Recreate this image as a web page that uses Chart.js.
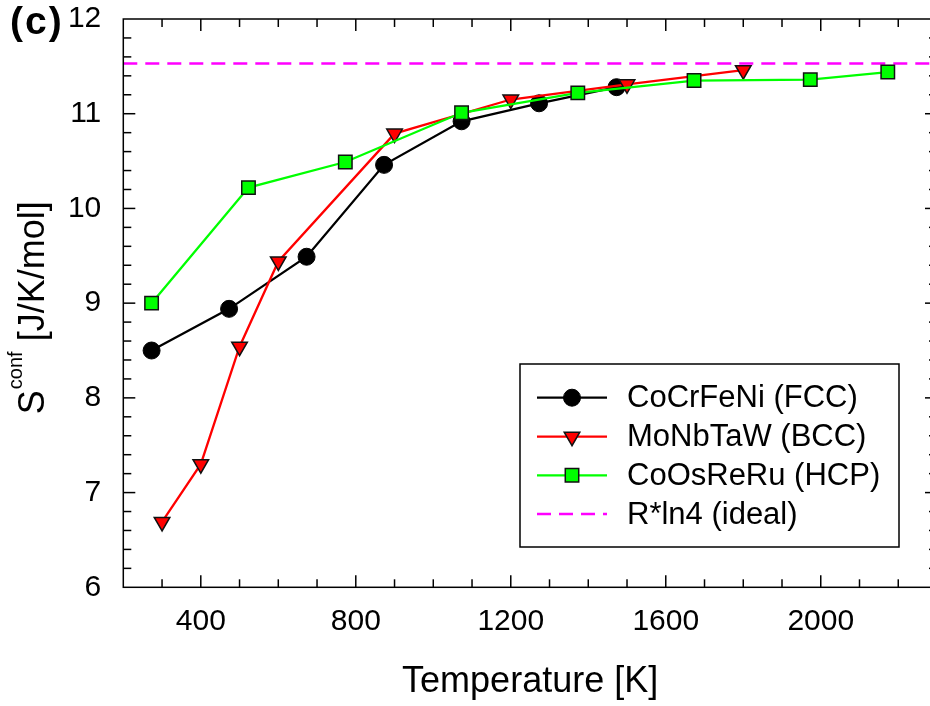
<!DOCTYPE html>
<html>
<head>
<meta charset="utf-8">
<style>
  html, body { margin: 0; padding: 0; overflow: hidden; background: #fff; }
  canvas { display: block; }
</style>
<script src="https://cdn.jsdelivr.net/npm/chart.js@4.4.1/dist/chart.umd.min.js"></script>
</head>
<body>
<canvas id="chart" width="950" height="706" style="width:950px;height:706px"></canvas>
<script>
// Configurational entropy vs temperature for three HEAs
const tempFCC = [273, 473, 673, 873, 1073, 1273, 1473];
const sFCC    = [8.50, 8.94, 9.49, 10.46, 10.92, 11.11, 11.28];

const tempBCC = [300, 400, 500, 600, 900, 1200, 1500, 1800];
const sBCC    = [6.69, 7.30, 8.54, 9.44, 10.79, 11.15, 11.31, 11.46];

const tempHCP = [273, 523, 773, 1073, 1373, 1673, 1973, 2173];
const sHCP    = [9.00, 10.22, 10.49, 11.01, 11.22, 11.35, 11.36, 11.44];

const tempIdeal = [200, 2300];
const sIdeal    = [11.53, 11.53];

const seriesNames = ['CoCrFeNi (FCC)', 'MoNbTaW (BCC)', 'CoOsReRu (HCP)', 'R*ln4 (ideal)'];

const xTicks = [400, 800, 1200, 1600, 2000];
const yTicks = [6, 7, 8, 9, 10, 11, 12];

const xTitle = 'Temperature [K]';
const panelLabel = '(c)';

const FONT = '"Liberation Sans", Arial, Helvetica, sans-serif';

const pts = (xs, ys) => xs.map((v, i) => ({ x: v, y: ys[i] }));

// Frame, inward ticks, axis titles, panel label and boxed legend
const decorations = {
  id: 'decorations',
  afterDraw(chart) {
    const { ctx, chartArea: a, scales: { x, y } } = chart;
    ctx.save();
    ctx.strokeStyle = '#000';
    ctx.lineWidth = 1.5;
    ctx.strokeRect(a.left, a.top, a.right - a.left, a.bottom - a.top);

    const seg = (x1, y1, x2, y2) => { ctx.beginPath(); ctx.moveTo(x1, y1); ctx.lineTo(x2, y2); ctx.stroke(); };
    for (let v = 300; v < 2300; v += 100) {
      const px = x.getPixelForValue(v);
      const len = v % 400 === 0 ? 12 : 8;
      seg(px, a.bottom, px, a.bottom - len);
      seg(px, a.top, px, a.top + len);
    }
    for (let i = 1; i < 30; i++) {
      const py = y.getPixelForValue(6 + i * 0.2);
      const len = i % 5 === 0 ? 12 : 8;
      seg(a.left, py, a.left + len, py);
      seg(a.right, py, a.right - len, py);
    }

    ctx.fillStyle = '#000';
    // x title
    ctx.font = '36px ' + FONT;
    ctx.textAlign = 'center';
    ctx.textBaseline = 'alphabetic';
    ctx.fillText(xTitle, (a.left + a.right) / 2, 692);

    // y title: S^conf [J/K/mol]
    ctx.save();
    const cy = (a.top + a.bottom) / 2;
    ctx.translate(44, cy + 111);
    ctx.rotate(-Math.PI / 2);
    ctx.textAlign = 'left';
    ctx.font = '36px ' + FONT;
    ctx.fillText('S', 0, 0);
    let off = ctx.measureText('S').width + 1;
    ctx.font = '20px ' + FONT;
    ctx.fillText('conf', off, -22);
    off += ctx.measureText('conf').width;
    ctx.font = '36px ' + FONT;
    ctx.fillText(' [J/K/mol]', off, 0);
    ctx.restore();

    // panel label
    ctx.font = 'bold 39px ' + FONT;
    ctx.textAlign = 'left';
    if ('letterSpacing' in ctx) ctx.letterSpacing = '2px';
    ctx.fillText(panelLabel, 10, 34);
    if ('letterSpacing' in ctx) ctx.letterSpacing = '0px';

    // legend
    const bx = 520, by = 364, bw = 379, bh = 183;
    ctx.fillStyle = '#fff';
    ctx.fillRect(bx, by, bw, bh);
    ctx.lineWidth = 1.5;
    ctx.strokeStyle = '#000';
    ctx.strokeRect(bx, by, bw, bh);
    const rows = [397.7, 436.7, 475.3, 514];
    const legendOrder = [2, 1, 0, 3]; // datasets listed top-to-bottom
    legendOrder.forEach((di, r) => {
      const ds = chart.data.datasets[di];
      const yy = rows[r];
      ctx.save();
      ctx.strokeStyle = ds.borderColor;
      ctx.lineWidth = ds.borderWidth;
      ctx.setLineDash(ds.borderDash || []);
      seg(537, yy, 607, yy);
      ctx.restore();
      if (ds.pointRadius > 0) {
        ctx.save();
        ctx.fillStyle = ds.pointBackgroundColor;
        ctx.strokeStyle = ds.pointBorderColor;
        ctx.lineWidth = ds.pointBorderWidth;
        Chart.helpers.drawPoint(ctx, {
          pointStyle: ds.pointStyle, rotation: ds.pointRotation || 0,
          radius: ds.pointRadius, borderWidth: ds.pointBorderWidth
        }, 572, yy);
        ctx.restore();
      }
      ctx.fillStyle = '#000';
      ctx.font = '31px ' + FONT;
      ctx.textAlign = 'left';
      ctx.textBaseline = 'middle';
      ctx.fillText(ds.label, 627, yy + 1);
    });
    ctx.restore();
  }
};

new Chart(document.getElementById('chart'), {
  type: 'line',
  data: {
    datasets: [
      {
        label: seriesNames[2], data: pts(tempHCP, sHCP), order: 0,
        borderColor: '#00ff00', borderWidth: 2.3,
        pointStyle: 'rect', pointRadius: 9.5, pointBackgroundColor: '#00ff00',
        pointBorderColor: '#111', pointBorderWidth: 1.5
      },
      {
        label: seriesNames[1], data: pts(tempBCC, sBCC), order: 1,
        borderColor: '#ff0000', borderWidth: 2.3,
        pointStyle: 'triangle', pointRotation: 180, pointRadius: 9,
        pointBackgroundColor: '#ff0000', pointBorderColor: '#111', pointBorderWidth: 1.5
      },
      {
        label: seriesNames[0], data: pts(tempFCC, sFCC), order: 2,
        borderColor: '#000', borderWidth: 2.3,
        pointStyle: 'circle', pointRadius: 8.5, pointBackgroundColor: '#000',
        pointBorderColor: '#000', pointBorderWidth: 1
      },
      {
        label: seriesNames[3], data: pts(tempIdeal, sIdeal), order: 3,
        borderColor: '#ff00ff', borderWidth: 2.3, borderDash: [14, 8],
        pointRadius: 0
      }
    ]
  },
  options: {
    responsive: false,
    animation: false,
    devicePixelRatio: 1,
    layout: { padding: { top: 19, right: 13, left: 0, bottom: 0 } },
    elements: { line: { tension: 0 } },
    plugins: { legend: { display: false }, tooltip: { enabled: false } },
    scales: {
      x: {
        type: 'linear', min: 200, max: 2300,
        afterBuildTicks: s => { s.ticks = xTicks.map(v => ({ value: v })); },
        afterFit: s => { s.height = 706 - 587.3; s.paddingLeft = 0; s.paddingRight = 0; },
        grid: { display: false, drawTicks: false },
        border: { display: false },
        ticks: { color: '#000', font: { family: FONT, size: 30 }, padding: 16, maxRotation: 0, autoSkip: false,
                 callback: v => String(v) }
      },
      y: {
        type: 'linear', min: 6, max: 12,
        afterBuildTicks: s => { s.ticks = yTicks.map(v => ({ value: v })); },
        afterFit: s => { s.width = 123.3; s.paddingTop = 0; s.paddingBottom = 0; },
        grid: { display: false, drawTicks: false },
        border: { display: false },
        ticks: { color: '#000', font: { family: FONT, size: 30 }, padding: 22, autoSkip: false,
                 callback: v => String(v) }
      }
    }
  },
  plugins: [decorations]
});
</script>
</body>
</html>
